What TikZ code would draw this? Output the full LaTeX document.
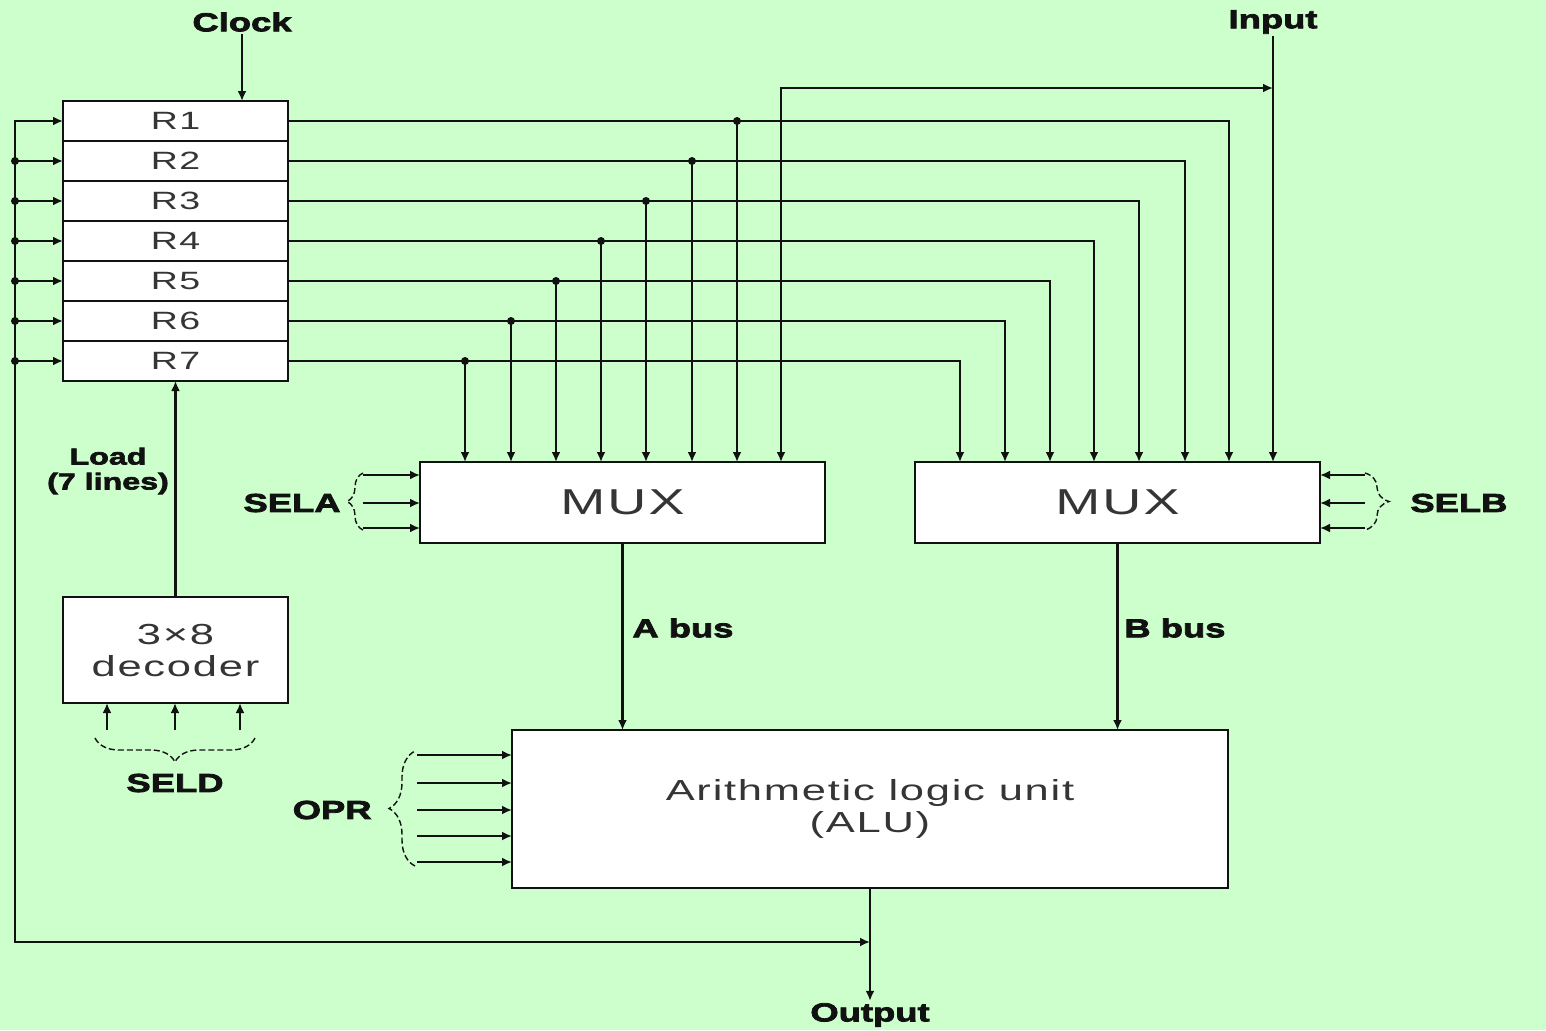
\documentclass[tikz,border=0pt]{standalone}
\usepackage{fontspec}
\setmainfont{Liberation Sans}
\newfontfamily\boxfont[FakeStretch=1.5,LetterSpace=6]{Liberation Sans}
\newfontfamily\labelfont[FakeStretch=1.4,FakeBold=3]{Liberation Sans}
\usetikzlibrary{arrows.meta,positioning,calc,decorations.pathreplacing}
\definecolor{ink}{HTML}{111111}
\definecolor{bg}{HTML}{CCFFCC}
\tikzset{
  every node/.style={font=\boxfont},
  regbox/.style={draw=ink, fill=white, line width=1.2pt, minimum width=112.5pt, minimum height=20pt, inner sep=0pt, outer sep=0pt, text=ink!85, font=\boxfont\fontsize{12.5}{14}\selectfont},
  decbox/.style={regbox, minimum height=53pt, align=center, font=\boxfont\fontsize{14.5}{16}\selectfont},
  muxbox/.style={regbox, minimum width=202.5pt, minimum height=40.5pt, font=\boxfont\fontsize{18}{20}\selectfont},
  alubox/.style={regbox, minimum width=358pt, minimum height=79pt, align=center, font=\boxfont\fontsize{14.5}{16}\selectfont},
  sig/.style={font=\labelfont\bfseries\fontsize{13}{13}\selectfont, text=ink, inner sep=1pt},
  arrow/.style={-{Latex[length=5pt,width=4.5pt]}, line width=1.2pt, draw=ink},
  twoarrow/.style={{Latex[length=5pt,width=4.5pt]}-{Latex[length=5pt,width=4.5pt]}, line width=1.2pt, draw=ink},
  dot/.style={circle, fill=ink, inner sep=0pt, minimum size=4pt},
  sigbrace/.style={draw=ink, decorate, decoration={brace, amplitude=#1}, line width=0.7pt, dash pattern=on 3pt off 1.5pt},
}
\begin{document}
\begin{tikzpicture}[x=0.5pt,y=-0.5pt]
\fill[bg] (0,0) rectangle (1546,1030);
\useasboundingbox (0,0) rectangle (1546,1030);
% boxes
\foreach \i in {1,...,7}
  \node[regbox] (r\i) at (175.5,{81+40*\i}) {R\i};
\node[decbox] (dec) at (175.5,650) {3×8\\decoder};
\node[muxbox] (muxa) at (622.5,502.5) {MUX};
\node[muxbox] (muxb) at (1117.5,502.5) {MUX};
\node[alubox] (alu) at (870,809) {Arithmetic logic unit\\(ALU)};
% labels
\node[sig] (clock) at (242,22) {Clock};
\node[sig] (input) at (1273,22) {Input};
\node[sig] (output) at (870,1015) {Output};
\node[sig, align=center, font=\labelfont\bfseries\fontsize{11.5}{12.5}\selectfont] (load) at (108,471) {Load\\(7 lines)};
\node[sig, anchor=east] (sela) at (343,503) {SELA};
\node[sig, anchor=west] (selb) at (1408,503) {SELB};
\node[sig] (seld) at (175,783) {SELD};
\node[sig, anchor=east] (opr) at (374,810) {OPR};
\node[sig, anchor=west] (abus) at (630,628) {A bus};
\node[sig, anchor=west] (bbus) at (1122,628) {B bus};
% register outputs to both MUXes
\foreach \i/\xa/\xb in {1/737/1229, 2/692/1185, 3/646/1139, 4/601/1094, 5/556/1050, 6/511/1005, 7/465/960} {
  \draw[arrow] (r\i.east) -| (muxb.north -| \xb,0);
  \draw[arrow] (r\i.east -| \xa,0) -- (muxa.north -| \xa,0);
  \node[dot] (ja\i) at (r\i.east -| \xa,0) {};
}
% input and clock
\draw[arrow] (input) -- (input |- muxb.north);
\coordinate (inj) at (input |- 0,88);
\draw[twoarrow] (inj) -| (muxa.north -| 781,0);
\draw[arrow] (clock) -- (clock |- r1.north);
% buses
\draw[arrow] (muxa) -- (muxa |- alu.north);
\draw[arrow] (muxb) -- (muxb |- alu.north);
\draw[arrow] (alu) -- (output);
% feedback to registers
\coordinate (outj) at (alu.south |- 0,942);
\draw[twoarrow] (outj) -| (r1.west -| 15,0) -- (r1.west);
\foreach \i in {2,...,7} {
  \draw[arrow] (r\i.west -| 15,0) -- (r\i.west);
  \node[dot] (jb\i) at (r\i.west -| 15,0) {};
}
% load lines and select inputs
\draw[arrow] (dec) -- (r7);
\foreach \x in {107,175,240}
  \draw[arrow] (dec.south -| \x,0) ++(0,27) -- (dec.south -| \x,0);
\foreach \y in {475,503,528} {
  \draw[arrow] (muxa.west |- 0,\y) ++(-57,0) -- (muxa.west |- 0,\y);
  \draw[arrow] (muxb.east |- 0,\y) ++(45,0) -- (muxb.east |- 0,\y);
}
\foreach \y in {755,783,810,836,862}
  \draw[arrow] (alu.west |- 0,\y) ++(-95,0) -- (alu.west |- 0,\y);
\draw[sigbrace=8pt] (363,530) -- (363,473);
\draw[sigbrace=12pt] (1365,473) -- (1365,530);
\draw[sigbrace=12pt] (255,738) -- (95,738);
\draw[sigbrace=13pt] (415,866) -- (415,751);
\end{tikzpicture}
\end{document}
